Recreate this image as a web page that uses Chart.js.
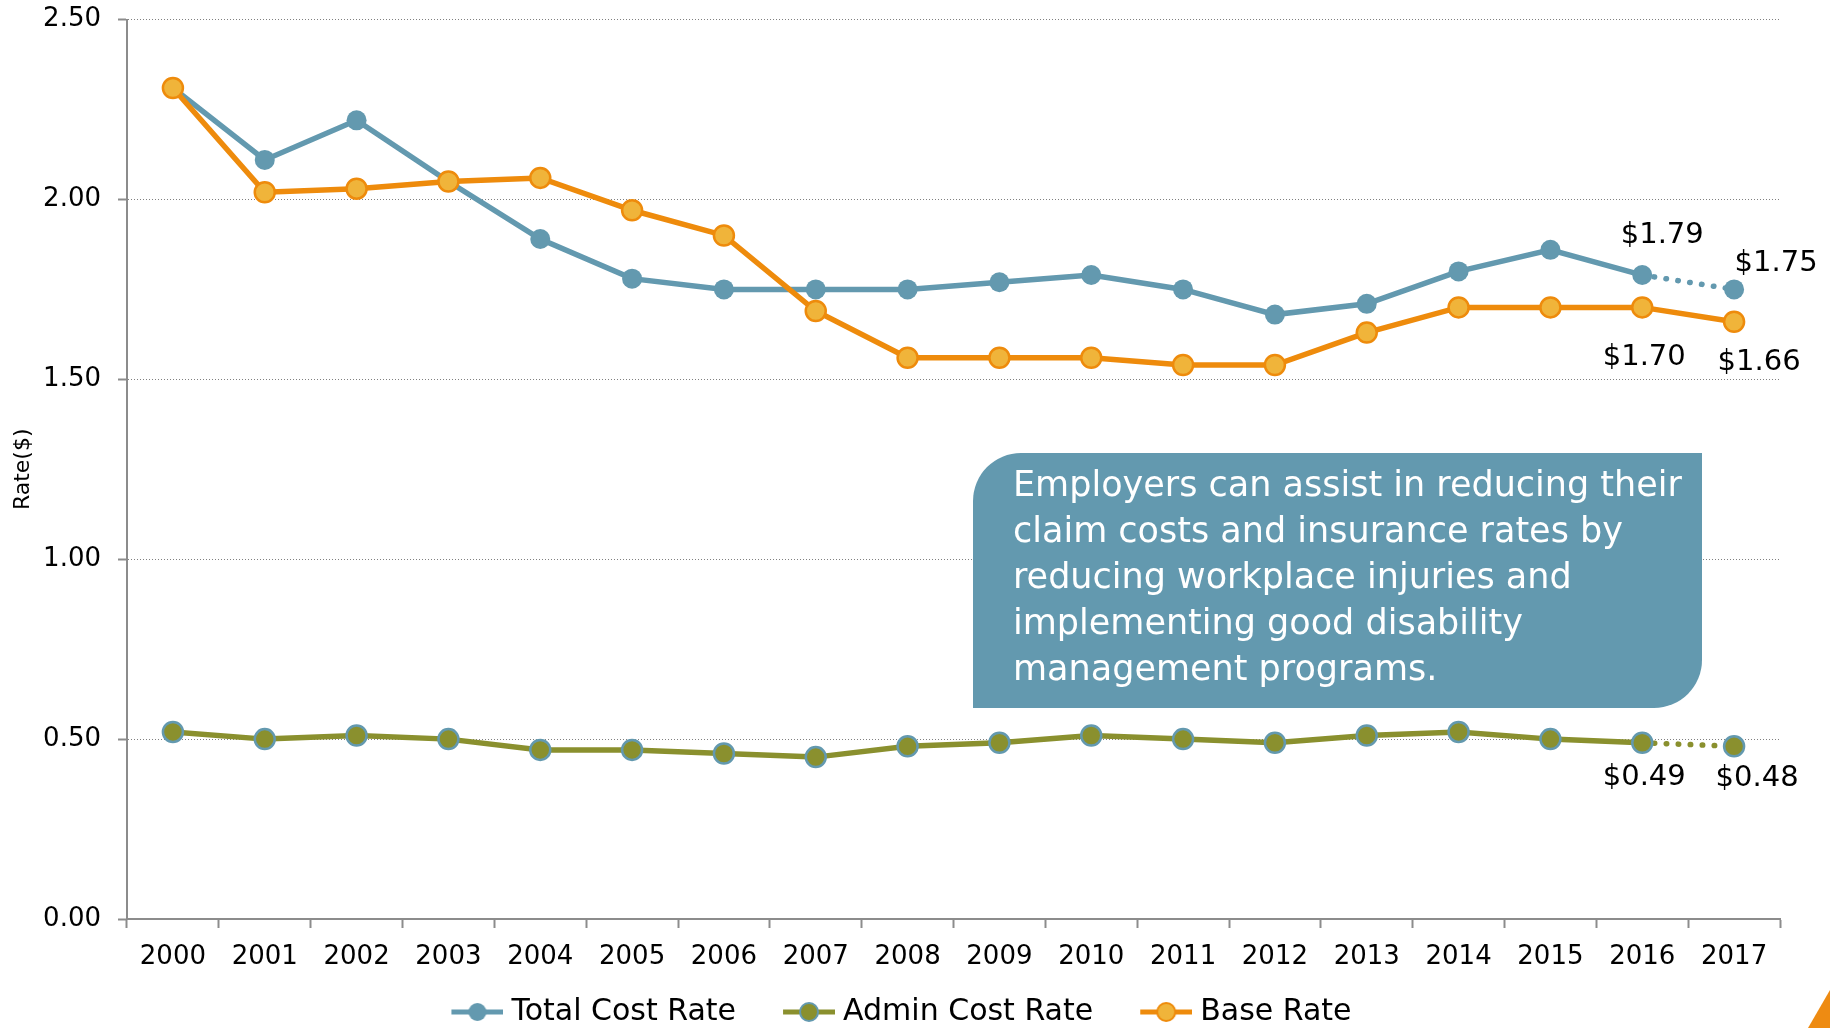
<!DOCTYPE html>
<html>
<head>
<meta charset="utf-8">
<title>Rate($) 2000-2017</title>
<script src="https://cdn.jsdelivr.net/npm/chart.js@4/dist/chart.umd.min.js"></script>
<style>
  html, body { margin: 0; padding: 0; background: #fff; }
  #wrap { position: relative; width: 1830px; height: 1028px; overflow: hidden; }
  #note {
    position: absolute; left: 973px; top: 453px; width: 729px; height: 255px;
    box-sizing: border-box; padding: 8px 0 0 40px;
    background: #6399af; color: #fff;
    font: 35px/46px 'DejaVu Sans', sans-serif;
    border-radius: 48px 0 48px 0; white-space: nowrap;
  }
  #corner {
    position: absolute; right: 0; bottom: 0; width: 22px; height: 38px;
    background: #ee8b12; clip-path: polygon(100% 0, 100% 100%, 0 100%);
  }
</style>
</head>
<body>
<div id="wrap">
  <canvas id="rates" width="1830" height="1028"></canvas>
  <div id="note">Employers can assist in reducing their<br>claim costs and insurance rates by<br>reducing workplace injuries and<br>implementing good disability<br>management programs.</div>
  <div id="corner"></div>
</div>
<script>
// Jahre und Raten
const years = ['2000', '2001', '2002', '2003', '2004', '2005', '2006', '2007', '2008',
               '2009', '2010', '2011', '2012', '2013', '2014', '2015', '2016', '2017'];
const totalCostRate = [2.31, 2.11, 2.22, 2.05, 1.89, 1.78, 1.75, 1.75, 1.75,
                       1.77, 1.79, 1.75, 1.68, 1.71, 1.80, 1.86, 1.79, 1.75];
const adminCostRate = [0.52, 0.50, 0.51, 0.50, 0.47, 0.47, 0.46, 0.45, 0.48,
                       0.49, 0.51, 0.50, 0.49, 0.51, 0.52, 0.50, 0.49, 0.48];
const baseRate = [2.31, 2.02, 2.03, 2.05, 2.06, 1.97, 1.90, 1.69, 1.56,
                  1.56, 1.56, 1.54, 1.54, 1.63, 1.70, 1.70, 1.70, 1.66];
const yTicks = [0, 0.5, 1.0, 1.5, 2.0, 2.5];

// Farben
const blue = '#6399af';
const olive = '#8a902e';
const orange = '#ee8b0c';
const orangeFill = '#f0b43a';

Chart.defaults.font.family = "'DejaVu Sans', sans-serif";
Chart.defaults.color = '#000';

// letztes Segment (Prognose) gepunktet
const lastIndex = years.length - 1;
const dottedLast = ctx => ctx.p1DataIndex === lastIndex ? [0.5, 11.5] : undefined;

// Legenden-Symbol: Linie mit Punkt, rechtsbündig im Bild (links Platz als Abstand)
const ICON_BOX = 68;
const ICON_W = ICON_BOX + 14;
function legendIcon(line, fill, stroke) {
    const c = document.createElement('canvas');
    c.width = ICON_W; c.height = 24;
    const g = c.getContext('2d');
    const x0 = ICON_W - 52;
    g.strokeStyle = line; g.lineWidth = 5;
    g.beginPath(); g.moveTo(x0, 12); g.lineTo(ICON_W, 12); g.stroke();
    g.beginPath(); g.arc(x0 + 26, 12, 9, 0, Math.PI * 2);
    g.fillStyle = fill; g.fill();
    if (stroke) { g.lineWidth = 2; g.strokeStyle = stroke; g.stroke(); }
    return c;
}
const legendIcons = [
    legendIcon(blue, blue, null),
    legendIcon(olive, olive, blue),
    legendIcon(orange, orangeFill, orange)
];

// Werte am Ende der Reihen (Datensatz, Index, Versatz)
const endLabels = [
    { ds: 0, i: 16, dx: 20, dy: -40 },
    { ds: 0, i: 17, dx: 42, dy: -26 },
    { ds: 2, i: 16, dx: 2, dy: 50 },
    { ds: 2, i: 17, dx: 25, dy: 41 },
    { ds: 1, i: 16, dx: 2, dy: 35 },
    { ds: 1, i: 17, dx: 23, dy: 32 }
];

const endLabelPlugin = {
    id: 'endLabels',
    afterDatasetsDraw(chart) {
        const ctx = chart.ctx;
        ctx.save();
        ctx.font = "29px 'DejaVu Sans', sans-serif";
        ctx.fillStyle = '#000';
        ctx.textAlign = 'center';
        ctx.textBaseline = 'middle';
        endLabels.forEach(l => {
            const pt = chart.getDatasetMeta(l.ds).data[l.i];
            const v = chart.data.datasets[l.ds].data[l.i];
            ctx.fillText('$' + v.toFixed(2), pt.x + l.dx, pt.y + l.dy);
        });
        ctx.restore();
    }
};

const chart = new Chart(document.getElementById('rates'), {
    type: 'line',
    data: {
        labels: years,
        datasets: [
            {
                label: 'Total Cost Rate',
                data: totalCostRate,
                order: 1,
                borderColor: blue,
                backgroundColor: blue,
                borderWidth: 5.5,
                borderCapStyle: 'round',
                pointRadius: 10,
                pointBorderWidth: 0,
                pointBackgroundColor: blue,
                segment: { borderDash: dottedLast }
            },
            {
                label: 'Admin Cost Rate',
                data: adminCostRate,
                order: 2,
                borderColor: olive,
                backgroundColor: olive,
                borderWidth: 5.5,
                borderCapStyle: 'round',
                pointRadius: 10,
                pointBorderWidth: 2.5,
                pointBorderColor: blue,
                pointBackgroundColor: olive,
                segment: { borderDash: dottedLast }
            },
            {
                label: 'Base Rate',
                data: baseRate,
                order: 0,
                borderColor: orange,
                backgroundColor: orangeFill,
                borderWidth: 5.5,
                pointRadius: 10,
                pointBorderWidth: 2.5,
                pointBorderColor: orange,
                pointBackgroundColor: orangeFill
            }
        ]
    },
    options: {
        responsive: false,
        animation: false,
        devicePixelRatio: 1,
        layout: { padding: { top: 12, right: 50, bottom: -9, left: 0 } },
        plugins: {
            tooltip: { enabled: false },
            legend: {
                position: 'bottom',
                labels: {
                    usePointStyle: true,
                    pointStyleWidth: ICON_BOX,
                    padding: 24,
                    font: { size: 30 },
                    color: '#000',
                    sort: (a, b) => a.datasetIndex - b.datasetIndex,
                    generateLabels(c) {
                        const items = Chart.defaults.plugins.legend.labels.generateLabels(c);
                        items.forEach(it => { it.pointStyle = legendIcons[it.datasetIndex]; });
                        return items;
                    }
                }
            }
        },
        scales: {
            x: {
                offset: true,
                grid: {
                    display: true,
                    drawOnChartArea: false,
                    offset: true,
                    tickLength: 9,
                    tickWidth: 2,
                    tickColor: '#8c8c8c'
                },
                border: { color: '#8c8c8c', width: 2 },
                ticks: { font: { size: 26 }, padding: 14, maxRotation: 0, autoSkip: false },
                afterFit(s) { s.height = 54; }
            },
            y: {
                min: 0,
                max: 2.5,
                afterBuildTicks(s) { s.ticks = yTicks.map(v => ({ value: v })); },
                ticks: {
                    font: { size: 26, lineHeight: 0.2 },
                    padding: 17,
                    callback: v => Number(v).toFixed(2)
                },
                grid: {
                    color: '#808080',
                    lineWidth: 1,
                    tickLength: 9,
                    tickWidth: 2,
                    tickColor: '#8c8c8c'
                },
                border: { color: '#8c8c8c', width: 2, dash: [1, 2] },
                title: {
                    display: true,
                    text: 'Rate($)',
                    font: { size: 22 },
                    color: '#000',
                    padding: { top: 10, bottom: 0 }
                },
                afterFit(s) { s.width = 127; }
            }
        }
    },
    plugins: [endLabelPlugin]
});
</script>
</body>
</html>
